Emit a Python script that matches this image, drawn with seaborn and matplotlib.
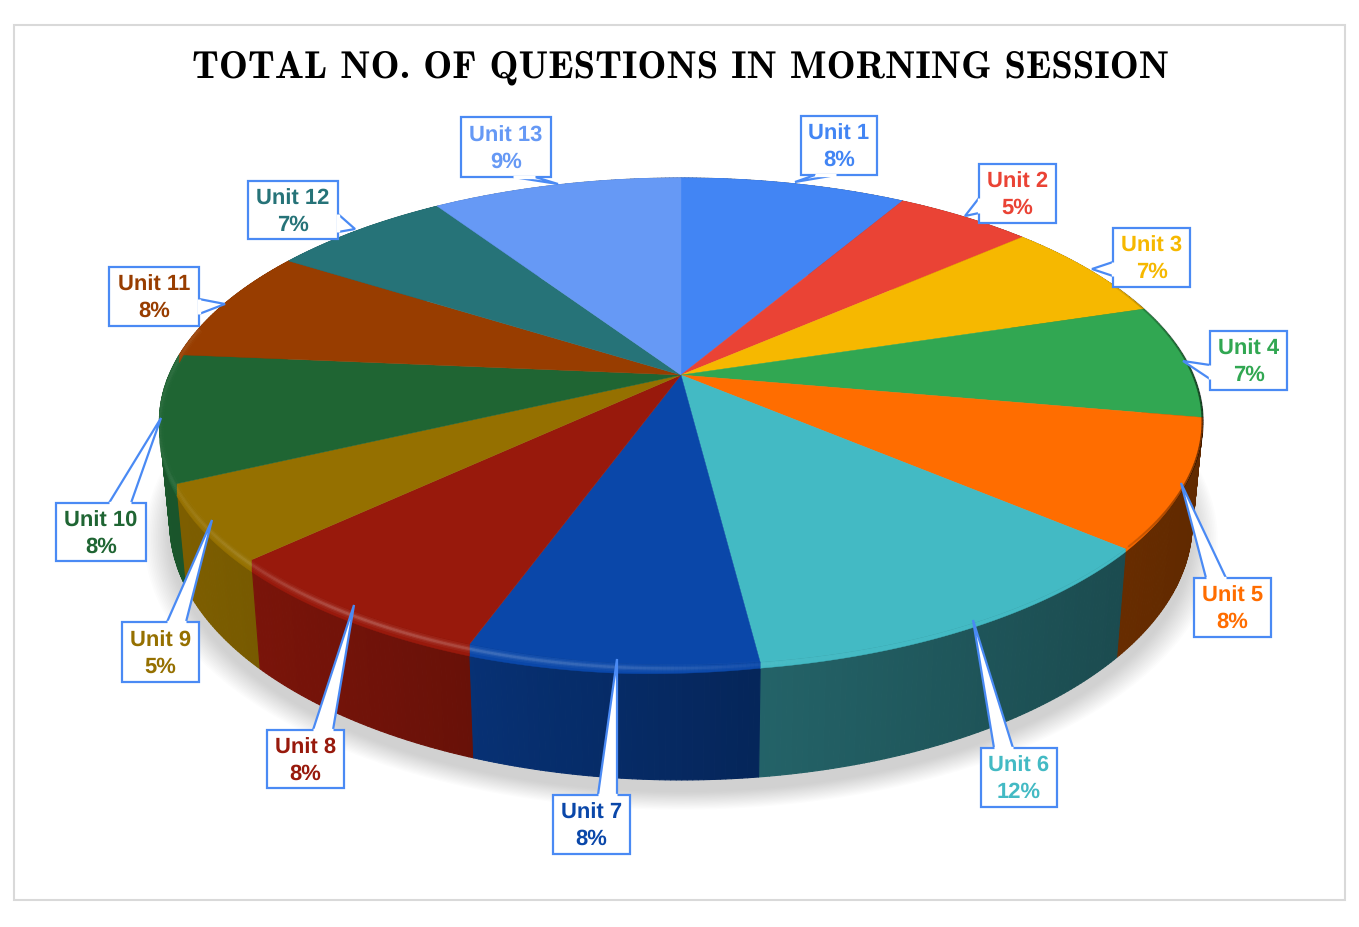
import numpy as np
import matplotlib
matplotlib.use('Agg')
import matplotlib.pyplot as plt
from matplotlib.collections import LineCollection, PolyCollection
from matplotlib.patches import Polygon, Rectangle
import seaborn as sns

units = ['Unit 1', 'Unit 2', 'Unit 3', 'Unit 4', 'Unit 5', 'Unit 6', 'Unit 7',
         'Unit 8', 'Unit 9', 'Unit 10', 'Unit 11', 'Unit 12', 'Unit 13']
# slice sizes
shares = [8.4, 5.1, 6.7, 7.6, 8.45, 11.75, 7.5, 7.5, 5.0, 8.4, 7.6, 6.7, 9.3]
# percentages as printed on the callouts
pct_labels = ['8%', '5%', '7%', '7%', '8%', '12%', '8%', '8%', '5%', '8%', '8%', '7%', '9%']
colors = ['#4285f4', '#ea4335', '#f6b800', '#31a752', '#ff6d00', '#43bac4', '#0a47a9',
          '#98190c', '#957000', '#1f6533', '#983d00', '#267378', '#6699f5']

title = 'TOTAL NO. OF QUESTIONS IN MORNING SESSION'

# callout layout: box (x0, y0, x1, y1), pointer tip, pointer base on the box
boxes = [(801, 116, 877, 175), (979, 164, 1056, 223), (1113, 228, 1190, 287),
         (1210, 331, 1287, 390), (1194, 578, 1271, 637), (981, 748, 1057, 807),
         (553, 795, 630, 854), (267, 730, 344, 788), (122, 622, 199, 682),
         (56, 503, 146, 561), (109, 267, 199, 326), (248, 181, 338, 239),
         (461, 117, 551, 177)]
tips = [(795, 182), (965, 216), (1092, 269), (1183, 361), (1181, 483), (973, 620),
        (617, 659), (354, 605), (212, 520), (161, 418), (225, 304), (355, 229),
        (558, 184)]
bases = [((815, 175), (836, 175)), ((979, 198), (979, 213)), ((1113, 262), (1113, 276)),
         ((1210, 365), (1210, 379)), ((1206, 578), (1226, 578)), ((994, 748), (1013, 748)),
         ((598, 795), (617, 795)), ((313, 730), (333, 730)), ((167, 622), (186, 622)),
         ((109, 503), (131, 503)), ((199, 299), (199, 314)), ((338, 214), (338, 232)),
         ((513, 177), (535, 177))]

# projection of the tilted disc onto the page
CX, CY = 681, 375
RX, RY, K = 512, 234.6, 0.191

sns.set_theme(style='white')
plt.rcParams['text.hinting'] = 'no_hinting'
plt.rcParams['text.hinting_factor'] = 1
palette = sns.color_palette(colors)
frame_blue = '#4a8af4'


def top_rim(theta, r=1.0):
    x = r * np.sin(theta)
    y = r * np.cos(theta)
    w = 1 + K * y
    return CX + RX * x / w, CY - RY * y / w


def bottom_rim(theta):
    sx, sy = top_rim(theta)
    return CX + 0.98 * (sx - CX), sy + 99 + 0.055 * (sy - CY)


def bevel_drop(theta, sx):
    # how far the rounded edge hangs below the rim
    drop = np.interp(sx, [160, 480, 620, 762, 1123, 1200], [12, 12, 10, 6, 3, 0])
    deg = np.degrees(theta)
    return drop * np.interp(deg, [95, 105, 270, 285], [0, 1, 1, 0])


fig, ax = plt.subplots(figsize=(13.59, 9.27), dpi=100)
ax.set_position([0, 0, 1, 1])
ax.set_xlim(0, 1359)
ax.set_ylim(927, 0)
ax.axis('off')

ax.add_patch(Rectangle((14, 25), 1331, 875, fc='white', ec='#d9d9d9', lw=1.5, zorder=0))
ax.text(680.5, 67.5, title, family='cmb10', fontsize=27.9, ha='center', va='center', color='black')

edges = np.radians(np.cumsum([0] + shares) * 3.6)

# soft shadow under the disc
full = np.linspace(0, 2 * np.pi, 361)
bx, by = bottom_rim(full)
for grow in np.linspace(1.05, 1.0, 16):
    ax.fill(CX + grow * (bx - CX), 425 + 12 + grow * (by - 425), color='#808080', alpha=0.024, lw=0, zorder=1)

# side wall, thin quads shaded by their position on the page
quads, quad_cols, depth = [], [], []
for i in range(len(units)):
    th = np.linspace(edges[i], edges[i + 1], max(int(np.degrees(edges[i + 1] - edges[i]) * 2), 2))
    tx, ty = top_rim(th)
    lx, ly = bottom_rim(th)
    for j in range(len(th) - 1):
        quads.append([(tx[j], ty[j]), (tx[j + 1], ty[j + 1]), (lx[j + 1], ly[j + 1]), (lx[j], ly[j])])
        shade = np.interp((tx[j] + tx[j + 1]) / 2, [160, 760, 1200], [0.85, 0.53, 0.38])
        quad_cols.append(tuple(np.array(palette[i]) * shade))
        depth.append(ty[j])
order = np.argsort(depth)
ax.add_collection(PolyCollection([quads[k] for k in order], facecolors=[quad_cols[k] for k in order],
                                 edgecolors=[quad_cols[k] for k in order], linewidths=0.8, zorder=2))

# top face, with the rounded edge hanging over the wall
for i in range(len(units)):
    th = np.linspace(edges[i], edges[i + 1], 80)
    sx, sy = top_rim(th)
    drop = bevel_drop(th, sx)
    ax.fill(np.r_[CX, sx], np.r_[CY, sy], color=palette[i], lw=0.3, zorder=3)
    ax.fill(np.r_[sx, sx[::-1]], np.r_[sy, (sy + drop)[::-1]], color=palette[i], lw=0.3, zorder=3)

# highlight along the front edge
arc = np.linspace(np.radians(100), np.radians(282), 500)
sx, sy = top_rim(arc)
sy = sy + 0.4 * bevel_drop(arc, sx)
segs = np.stack([np.c_[sx[:-1], sy[:-1]], np.c_[sx[1:], sy[1:]]], axis=1)
for width, strength in [(6, 0.05), (3.5, 0.08), (1.8, 0.13)]:
    cols = np.ones((len(segs), 4))
    cols[:, 3] = np.interp(sx[:-1], [165, 260, 350, 620, 800, 1050], [0.25, 0.6, 1.0, 0.7, 0.1, 0.0]) * strength
    ax.add_collection(LineCollection(segs, colors=cols, linewidths=width, capstyle='butt', zorder=4))

# dark edge on the right
arc = np.linspace(np.radians(65), np.radians(130), 200)
sx, sy = top_rim(arc)
segs = np.stack([np.c_[sx[:-1], sy[:-1]], np.c_[sx[1:], sy[1:]]], axis=1)
cols = np.zeros((len(segs), 4))
cols[:, 3] = np.interp(sx[:-1], [1100, 1180, 1203], [0.0, 0.35, 0.6])
ax.add_collection(LineCollection(segs, colors=cols, linewidths=1.6, capstyle='butt', zorder=4))

# callouts
for i, unit in enumerate(units):
    x0, y0, x1, y1 = boxes[i]
    ax.add_patch(Rectangle((x0, y0), x1 - x0, y1 - y0, fc='white', ec=frame_blue, lw=1.6, zorder=5))
    b1, b2 = bases[i]
    ax.add_patch(Polygon([b1, tips[i], b2], closed=False, fc='white', ec=frame_blue, lw=1.6,
                         joinstyle='miter', zorder=6))
    ax.plot([b1[0], b2[0]], [b1[1], b2[1]], color='white', lw=2.4, solid_capstyle='butt', zorder=7)
    cx, cy = (x0 + x1) / 2, (y0 + y1) / 2
    for text, dy in [(unit, -11), (pct_labels[i], 15)]:
        ax.text(cx, cy + dy, text, family='Liberation Sans', weight='bold', fontsize=16.2, ha='center',
                va='center', color=palette[i], zorder=8)

fig.savefig('out.png', dpi=100, facecolor='white')
